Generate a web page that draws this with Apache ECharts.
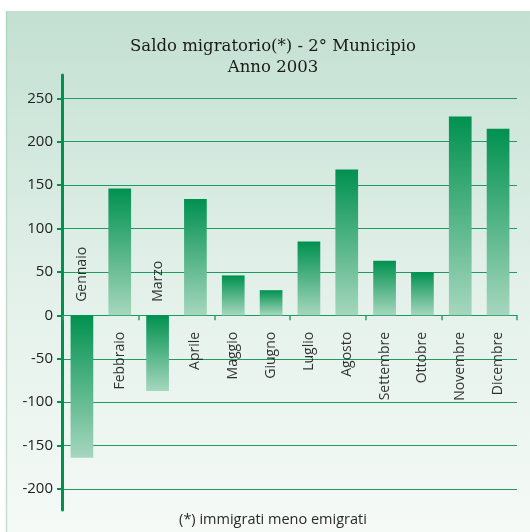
<!DOCTYPE html>
<html>
<head>
<meta charset="utf-8">
<script src="https://cdn.jsdelivr.net/npm/echarts@6/dist/echarts.min.js"></script>
<style>
html,body{margin:0;padding:0;background:#fff;}
#chart{width:530px;height:532px;}
</style>
</head>
<body>
<div id="chart"></div>
<script>
// ---- data ----
const categories = ['Gennaio','Febbraio','Marzo','Aprile','Maggio','Giugno','Luglio','Agosto','Settembre','Ottobre','Novembre','Dicembre'];
const saldo = [-164, 146, -87, 134, 46, 29, 85, 168, 63, 50, 229, 215];
const yMin = -200, yMax = 250, yStep = 50;
const titleLines = ['Saldo migratorio(*) - 2° Municipio', 'Anno 2003'];
const footnote = '(*) immigrati meno emigrati';

const chart = echarts.init(document.getElementById('chart'), null, {renderer: 'canvas'});

const green = '#00914f';
const barGradient = new echarts.graphic.LinearGradient(0, 0, 0, 1, [
  {offset: 0, color: '#00914f'},
  {offset: 1, color: '#a6d7be'}
]);

const labelData = saldo.map((v, i) => ({
  name: categories[i],
  value: 0,
  label: {
    position: v < 0 ? 'top' : 'bottom',
    align: v < 0 ? 'left' : 'right',
    distance: v < 0 ? 13 : 16
  }
}));

chart.setOption({
  animation: false,
  graphic: [
    {
      type: 'rect', z: -100, silent: true,
      shape: {x: 6, y: 11, width: 524, height: 521},
      style: {
        fill: new echarts.graphic.LinearGradient(0, 0, 0, 1, [
          {offset: 0, color: '#c3e0d2'},
          {offset: 0.55, color: '#e4f1ea'},
          {offset: 1, color: '#f5faf7'}
        ])
      }
    },
    {
      type: 'line', z: -99, silent: true,
      shape: {x1: 6.5, y1: 11, x2: 6.5, y2: 532},
      style: {stroke: 'rgba(160,205,183,0.6)', lineWidth: 1.5}
    },
    {
      type: 'text', z: 100, silent: true,
      x: 273, y: 57,
      style: {
        text: titleLines.join('\n'),
        textAlign: 'center', textVerticalAlign: 'middle',
        fontFamily: 'DejaVu Serif', fontSize: 16.5, lineHeight: 21,
        fill: '#1a1a1a'
      }
    },
    {
      type: 'text', z: 100, silent: true,
      x: 273, y: 519.5,
      style: {
        text: footnote,
        textAlign: 'center', textVerticalAlign: 'middle',
        fontFamily: 'Open Sans', fontSize: 14.5,
        fill: '#2a2a2a'
      }
    }
  ],
  grid: [
    {left: 63, right: 13, top: 98.3, bottom: 43, containLabel: false},
    {left: 62, width: 2, top: 75, bottom: 22, containLabel: false}
  ],
  xAxis: [
    {
      type: 'category', gridIndex: 0, data: categories,
      axisLine: {show: true, onZero: true, lineStyle: {color: '#1a9a5c', width: 1}},
      axisTick: {show: true, length: 5, lineStyle: {color: '#2fa068', width: 1.5}},
      axisLabel: {show: false},
      splitLine: {show: false}
    },
    {type: 'value', gridIndex: 1, show: false, min: 0, max: 1}
  ],
  yAxis: [
    {
      type: 'value', gridIndex: 0, min: yMin, max: yMax, interval: yStep,
      axisLine: {show: false},
      axisTick: {show: true, length: 6, lineStyle: {color: green, width: 2}},
      axisLabel: {
        show: true, margin: 10, color: '#222',
        fontFamily: 'Open Sans', fontSize: 15
      },
      splitLine: {show: true, lineStyle: {color: '#1f9a60', width: 1}}
    },
    {
      type: 'value', gridIndex: 1, min: 0, max: 1,
      axisLine: {show: true, onZero: false, lineStyle: {color: green, width: 3}},
      axisTick: {show: false}, axisLabel: {show: false}, splitLine: {show: false}
    }
  ],
  series: [
    {
      type: 'bar', xAxisIndex: 0, yAxisIndex: 0,
      data: saldo,
      barWidth: '60%',
      itemStyle: {color: barGradient},
      silent: true
    },
    {
      type: 'scatter', xAxisIndex: 0, yAxisIndex: 0,
      data: labelData,
      symbolSize: 1,
      itemStyle: {color: 'rgba(0,0,0,0)'},
      silent: true,
      z: 5,
      label: {
        show: true,
        rotate: 90,
        verticalAlign: 'middle',
        formatter: p => p.name,
        fontFamily: 'Open Sans', fontSize: 14, color: '#000'
      }
    }
  ]
});
</script>
</body>
</html>
